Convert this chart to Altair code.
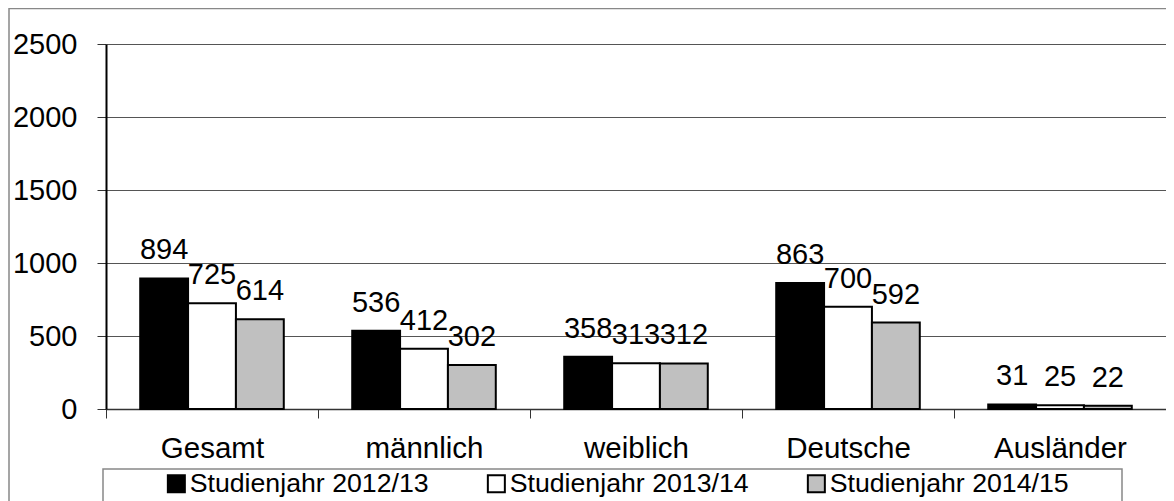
import altair as alt
import pandas as pd

categories = ["Gesamt", "männlich", "weiblich", "Deutsche", "Ausländer"]
series = ["Studienjahr 2012/13", "Studienjahr 2013/14", "Studienjahr 2014/15"]
v2012 = [894, 536, 358, 863, 31]
v2013 = [725, 412, 313, 700, 25]
v2014 = [614, 302, 312, 592, 22]
colors = ["#000000", "#ffffff", "#c0c0c0"]
y_ticks = [0, 500, 1000, 1500, 2000, 2500]

rows = []
for s, vals in zip(series, [v2012, v2013, v2014]):
    for c, v in zip(categories, vals):
        rows.append({"Kategorie": c, "Jahr": s, "Wert": v})
df = pd.DataFrame(rows)

W, H = 1060, 365
FONT = "Liberation Sans"

x_enc = alt.X(
    "Kategorie:N",
    sort=categories,
    scale=alt.Scale(paddingInner=0, paddingOuter=0),
    axis=alt.Axis(
        title=None, labelAngle=0, tickBand="extent", labelFont=FONT,
        labelFontSize=29.5, labelColor="black", labelPadding=16,
        tickSize=9, tickColor="#333333", tickWidth=1,
        domainColor="#333333", domainWidth=1.5, grid=False,
    ),
)
xo_enc = alt.XOffset("Jahr:N", sort=series,
                     scale=alt.Scale(paddingInner=0, paddingOuter=0.715))
y_enc = alt.Y(
    "Wert:Q",
    scale=alt.Scale(domain=[0, 2500], nice=False),
    axis=alt.Axis(
        title=None, values=y_ticks, format="d", grid=True, gridColor="#555555",
        gridWidth=1, domainColor="black", domainWidth=2, tickColor="#333333",
        tickSize=9, labelPadding=20, labelFont=FONT, labelFontSize=29,
        labelColor="black",
    ),
)

base = alt.Chart(df)

bars = base.mark_bar(stroke="black", strokeWidth=2).encode(
    x=x_enc,
    xOffset=xo_enc,
    y=y_enc,
    fill=alt.Fill(
        "Jahr:N", sort=series,
        scale=alt.Scale(domain=series, range=colors),
        legend=alt.Legend(
            title=None, orient="none", legendX=57, legendY=426,
            direction="horizontal", symbolType="square", symbolSize=289,
            symbolStrokeColor="black", symbolStrokeWidth=2,
            labelFont=FONT, labelFontSize=26.7, labelColor="black",
            labelOffset=0, labelLimit=400, columnPadding=54, padding=0,
        ),
    ),
)

labels = base.mark_text(
    dy=-19, baseline="alphabetic", fontSize=29, font=FONT, color="black"
).encode(
    x=alt.X("Kategorie:N", sort=categories),
    xOffset=alt.XOffset("Jahr:N", sort=series),
    y=alt.Y("Wert:Q"),
    text=alt.Text("Wert:Q"),
)

one = pd.DataFrame({"k": [0]})
outer_frame = alt.Chart(one).mark_rect(
    fillOpacity=0, stroke="#888888", strokeWidth=1.5
).encode(x=alt.value(-97), x2=alt.value(1200), y=alt.value(-35.5), y2=alt.value(600))

legend_box = alt.Chart(one).mark_rect(
    fillOpacity=0, stroke="#888888", strokeWidth=1.5
).encode(x=alt.value(-3), x2=alt.value(1016), y=alt.value(425), y2=alt.value(600))

chart = alt.layer(outer_frame, legend_box, bars, labels).properties(
    width=W, height=H,
    autosize=alt.AutoSizeParams(type="none"),
    padding={"left": 98, "top": 36, "right": 0, "bottom": 92},
).configure_view(stroke="#888888", strokeWidth=1.5).configure(background="white")

chart.save("out.html", embed_options={"renderer": "svg", "actions": False})
